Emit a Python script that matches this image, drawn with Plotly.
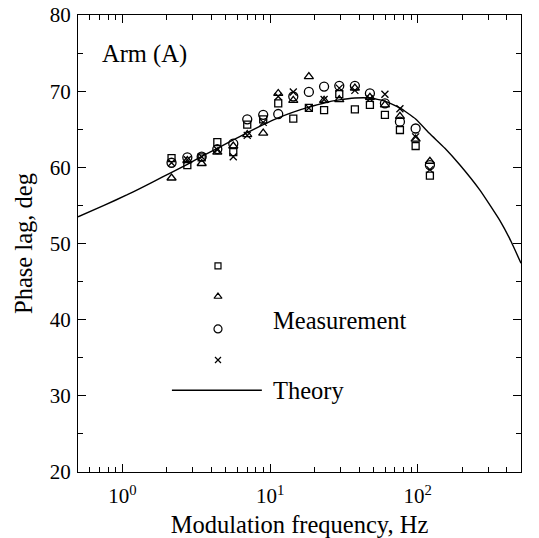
import math
import plotly.graph_objects as go

# ---- data ----
freq = [2.15, 2.75, 3.44, 4.39, 5.63, 7.0, 8.98, 11.35, 14.35, 18.3, 23.2, 29.4, 37.5, 47.4, 59.9, 75.7, 96.7, 120.8]
meas_square = [61.2, 60.3, 61.3, 63.3, 62.0, 65.6, 66.3, 68.4, 66.4, 67.8, 67.5, 69.6, 67.6, 68.2, 66.9, 64.9, 62.8, 58.9]
meas_triangle = [58.6, 60.9, 60.5, 62.0, 62.8, 64.3, 64.5, 69.7, 68.8, 71.9, 68.8, 68.9, 70.4, 69.2, 68.2, 66.7, 63.7, 60.8]
meas_circle = [60.6, 61.3, 61.4, 62.4, 63.1, 66.3, 66.9, 67.0, 69.3, 69.9, 70.6, 70.7, 70.7, 69.7, 68.4, 66.0, 65.1, 60.3]
meas_cross = [60.6, 61.0, 61.4, 62.3, 61.4, 64.2, 65.9, 69.3, 69.9, 67.8, 68.9, 70.4, 70.1, 69.0, 69.6, 67.7, 64.0, 59.7]

theory_f = [0.5, 0.75, 1.07, 1.31, 1.6, 2.155, 2.75, 3.44, 4.39, 5.63, 7.0, 8.98, 11.35, 14.35, 18.3,
            23.2, 29.4, 37.5, 47.4, 59.9, 75.7, 96.7, 120.8, 152.7, 193, 263.5, 360, 430, 500]
theory_v = [53.5, 55.0, 56.37, 57.22, 58.05, 59.35, 60.4, 61.45, 62.5, 63.6, 64.55, 65.6, 66.5, 67.25, 67.9,
            68.45, 68.85, 69.1, 69.1, 68.7, 67.8, 66.35, 64.4, 62.5, 60.3, 57.0, 53.0, 50.2, 47.4]

x_tickvals = [1, 10, 100]
x_ticktext = ["10<sup>0</sup>", "10<sup>1</sup>", "10<sup>2</sup>"]
x_minor = [0.6, 0.7, 0.8, 0.9] + [m * d for d in (1, 10) for m in range(2, 10)] + [200, 300, 400]
y_tickvals = [20, 30, 40, 50, 60, 70, 80]

FONT = "Liberation Serif"

fig = go.Figure()

series = [
    (meas_square, "square-open", 7),
    (meas_triangle, "triangle-up-open", 8),
    (meas_circle, "circle-open", 9),
    (meas_cross, "x-thin-open", 7),
]
for vals, sym, sz in series:
    fig.add_trace(go.Scatter(
        x=freq, y=vals, mode="markers",
        marker=dict(symbol=sym, size=sz, color="black", line=dict(color="black", width=1.3)),
        showlegend=False,
    ))

fig.add_trace(go.Scatter(
    x=theory_f, y=theory_v, mode="lines",
    line=dict(color="black", width=1.4, shape="spline", smoothing=0.4),
    showlegend=False,
))

# ---- legend key (drawn on an overlay axis in plot-fraction units) ----
key_x = 0.316
key_y = [0.451, 0.384, 0.313, 0.245]
for (vals, sym, sz), ky in zip(series, key_y):
    fig.add_trace(go.Scatter(
        x=[key_x], y=[ky], mode="markers", xaxis="x2", yaxis="y2",
        marker=dict(symbol=sym, size=sz - 1, color="black", line=dict(color="black", width=1.2)),
        showlegend=False,
    ))
fig.add_trace(go.Scatter(
    x=[0.212, 0.415], y=[0.179, 0.179], mode="lines", xaxis="x2", yaxis="y2",
    line=dict(color="black", width=1.4), showlegend=False,
))

ann_font = dict(family=FONT, size=24.5, color="black")
fig.add_annotation(x=0.436, y=0.331, xref="x2", yref="y2", text="Measurement", showarrow=False,
                   xanchor="left", yanchor="middle", font=ann_font)
fig.add_annotation(x=0.436, y=0.179, xref="x2", yref="y2", text="Theory", showarrow=False,
                   xanchor="left", yanchor="middle", font=ann_font)
fig.add_annotation(x=0.049, y=0.915, xref="x2", yref="y2", text="Arm (A)", showarrow=False,
                   xanchor="left", yanchor="middle", font=ann_font)

fig.update_layout(
    width=539, height=538,
    margin=dict(l=78, r=18, t=15, b=66, autoexpand=False),
    paper_bgcolor="white", plot_bgcolor="white",
    font=dict(family=FONT, size=21, color="black"),
    xaxis=dict(
        type="log", range=[math.log10(0.5), math.log10(500)],
        tickmode="array", tickvals=x_tickvals, ticktext=x_ticktext,
        ticks="inside", ticklen=8, tickwidth=1, tickcolor="black",
        minor=dict(tickmode="array", tickvals=x_minor, ticks="inside", ticklen=5, tickwidth=1,
                   tickcolor="black", showgrid=False),
        showline=True, linecolor="black", linewidth=1.3, mirror="ticks",
        showgrid=False, zeroline=False, automargin=False,
        ticklabelstandoff=5,
        title=dict(text="Modulation frequency, Hz", font=dict(size=24.5), standoff=10),
        tickfont=dict(size=21),
    ),
    yaxis=dict(
        range=[20, 80], tickmode="array", tickvals=y_tickvals,
        ticks="inside", ticklen=8, tickwidth=1, tickcolor="black",
        minor=dict(dtick=5, tick0=0, ticks="inside", ticklen=5, tickwidth=1, tickcolor="black",
                   showgrid=False),
        showline=True, linecolor="black", linewidth=1.3, mirror="ticks",
        showgrid=False, zeroline=False, automargin=False,
        ticklabelstandoff=2,
        title=dict(text="Phase lag, deg", font=dict(size=24.5), standoff=10),
        tickfont=dict(size=21),
    ),
    xaxis2=dict(overlaying="x", range=[0, 1], visible=False, anchor="y2"),
    yaxis2=dict(overlaying="y", range=[0, 1], visible=False, anchor="x2"),
)

fig.write_html(
    "out.html",
    config={"displayModeBar": False},
    post_script="document.body.style.margin='0';document.body.style.overflow='hidden';",
)
